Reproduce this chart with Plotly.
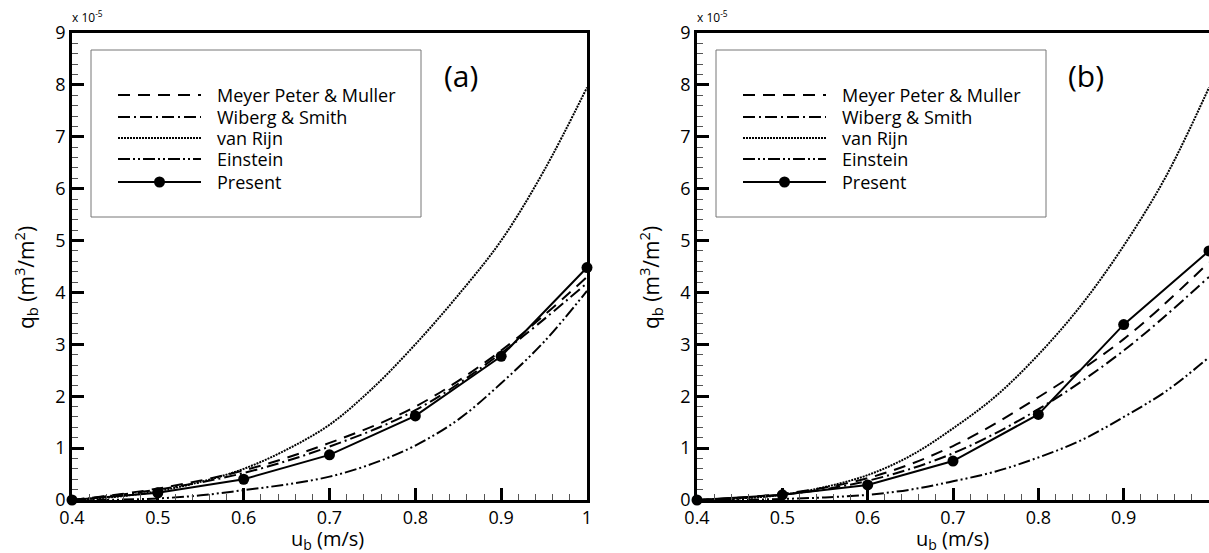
import plotly.graph_objects as go

W, H = 1209, 553

# bed velocity (m/s)
u_coarse = [0.4, 0.5, 0.6, 0.7, 0.8, 0.9, 1.0]
u_fine = [0.4, 0.45, 0.5, 0.55, 0.6, 0.65, 0.7, 0.75, 0.8, 0.85, 0.9, 0.95, 1.0]

# bed load q_b, units of 1e-5 m3/m2
# panel (a)
mpm_a = [0, 0.22, 0.57, 1.1, 1.8, 2.88, 4.3]
wiberg_a = [0, 0.2, 0.52, 1.03, 1.73, 2.83, 4.18]
vanrijn_a = [0, 0.06, 0.17, 0.35, 0.6, 0.97, 1.45, 2.15, 3.0, 3.95, 5.0, 6.35, 7.95]
einstein_a = [0, 0.005, 0.03, 0.09, 0.19, 0.3, 0.45, 0.7, 1.05, 1.55, 2.25, 3.05, 4.03]
present_a = [0, 0.14, 0.40, 0.87, 1.62, 2.77, 4.48]

# panel (b)
mpm_b = [0, 0.12, 0.42, 1.04, 1.98, 3.1, 4.58]
wiberg_b = [0, 0.1, 0.37, 0.9, 1.75, 2.88, 4.3]
vanrijn_b = [0, 0.03, 0.1, 0.25, 0.48, 0.85, 1.38, 2.0, 2.8, 3.75, 4.9, 6.25, 7.95]
einstein_b = [0, 0.005, 0.02, 0.05, 0.1, 0.2, 0.36, 0.55, 0.82, 1.15, 1.6, 2.1, 2.75]
present_b = [0, 0.1, 0.29, 0.75, 1.65, 3.38, 4.8]

legend_names = ["Meyer Peter & Muller", "Wiberg & Smith", "van Rijn", "Einstein", "Present"]

FONT = "Open Sans"
styles = {
    "Meyer Peter & Muller": "12px,8px",
    "Wiberg & Smith": "12px,4px,2px,4px",
    "van Rijn": "2px,1px",
    "Einstein": "12px,3px,2px,3px,2px,3px",
    "Present": "solid",
}


def px(x):
    return x / W


def py(y):
    return 1 - y / H


fig = go.Figure()

panels = [
    dict(xa="x", ya="y", left=72, right=587, label="(a)",
         data=[mpm_a, wiberg_a, vanrijn_a, einstein_a, present_a]),
    dict(xa="x2", ya="y2", left=697, right=1211, label="(b)",
         data=[mpm_b, wiberg_b, vanrijn_b, einstein_b, present_b]),
]

for p in panels:
    mpm, wib, vr, ein, pres = p["data"]
    for name, xs, ys in [("Meyer Peter & Muller", u_coarse, mpm),
                         ("Wiberg & Smith", u_coarse, wib),
                         ("van Rijn", u_fine, vr),
                         ("Einstein", u_fine, ein)]:
        fig.add_trace(go.Scatter(
            x=xs, y=ys, mode="lines", name=name, showlegend=False,
            line=dict(color="black", width=2, shape="spline", dash=styles[name]),
            xaxis=p["xa"], yaxis=p["ya"]))
    fig.add_trace(go.Scatter(
        x=u_coarse, y=pres, mode="lines+markers", name="Present", showlegend=False,
        line=dict(color="black", width=2), marker=dict(color="black", size=11),
        cliponaxis=False, xaxis=p["xa"], yaxis=p["ya"]))

axis_common = dict(
    showline=True, linecolor="black", linewidth=2.5, mirror=True,
    ticks="inside", ticklen=12, tickwidth=2.5, tickcolor="black",
    showgrid=False, zeroline=False, automargin=False,
    tickfont=dict(family=FONT, size=18, color="black"),
)
xminor = dict(ticks="inside", ticklen=6, tickwidth=1, tickcolor="#555", dtick=0.02)
yminor = dict(ticks="inside", ticklen=6, tickwidth=1, tickcolor="#555", dtick=0.2)

ydom = [py(500), py(33)]
fig.update_layout(
    width=W, height=H,
    margin=dict(l=0, r=0, t=0, b=0),
    paper_bgcolor="white", plot_bgcolor="white",
    showlegend=False,
    xaxis=dict(domain=[px(72), px(587)], range=[0.4, 1.0], dtick=0.1, anchor="y",
               minor=xminor, ticklabelstandoff=0, **axis_common),
    yaxis=dict(domain=ydom, range=[0, 9], dtick=1, anchor="x", minor=yminor, **axis_common),
    xaxis2=dict(domain=[px(697), 1.0], range=[0.4, 1.0], dtick=0.1, anchor="y2",
                minor=xminor, ticklabelstandoff=0, **axis_common),
    yaxis2=dict(domain=ydom, range=[0, 9], dtick=1, anchor="x2", minor=yminor, **axis_common),
)

shapes = []
annotations = []


def note(x, y, text, size, xanchor="center", angle=0):
    annotations.append(dict(x=px(x), y=py(y), xref="paper", yref="paper",
                            xanchor=xanchor, yanchor="middle", textangle=angle,
                            text=text, showarrow=False,
                            font=dict(family=FONT, size=size, color="black")))


for p in panels:
    L = p["left"]
    note((L + p["right"]) / 2 - 2, 539, "u<sub>b</sub> (m/s)", 20)
    note(L - 47, 278, "q<sub>b</sub> (m<sup>3</sup>/m<sup>2</sup>)", 21, angle=-90)
    note(L - 2, 17, "x 10<sup>-5</sup>", 12, xanchor="left")
    note(L + 389, 75, p["label"], 30)
    # legend box
    bx0 = L + 19
    shapes.append(dict(type="rect", xref="paper", yref="paper",
                       x0=px(bx0), x1=px(bx0 + 330), y0=py(217), y1=py(50),
                       line=dict(color="#777", width=1), fillcolor="white", layer="above"))
    rows = [95, 117, 138, 159, 182]
    for name, ry in zip(legend_names, rows):
        sx0, sx1 = bx0 + 27, bx0 + 110
        shapes.append(dict(type="line", xref="paper", yref="paper",
                           x0=px(sx0), x1=px(sx1), y0=py(ry), y1=py(ry),
                           line=dict(color="black", width=2, dash=styles[name]),
                           layer="above"))
        if name == "Present":
            cx = (sx0 + sx1) / 2
            shapes.append(dict(type="circle", xref="paper", yref="paper",
                               x0=px(cx - 5.5), x1=px(cx + 5.5), y0=py(ry + 5.5), y1=py(ry - 5.5),
                               fillcolor="black", line=dict(color="black", width=0), layer="above"))
        note(bx0 + 124, ry, name, 18, xanchor="left")

fig.update_layout(shapes=shapes, annotations=annotations)

fig.write_html("out.html", config={"displayModeBar": False},
               post_script="document.body.style.margin='0';")
